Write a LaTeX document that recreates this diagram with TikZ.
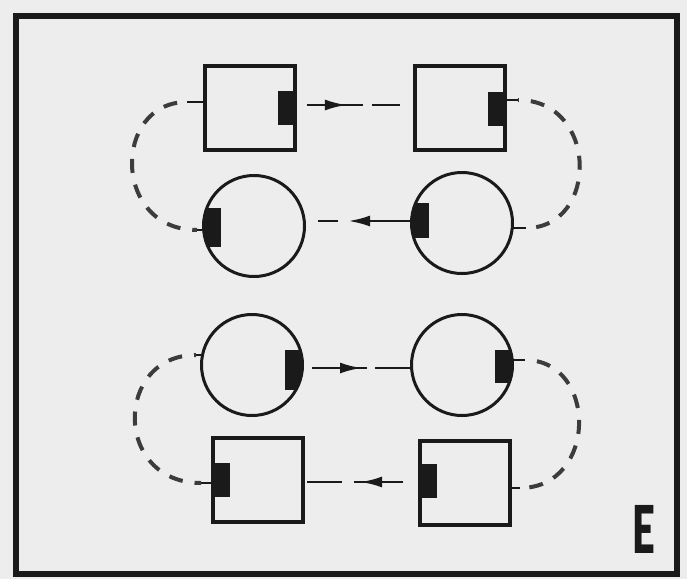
\documentclass[tikz,border=0pt]{standalone}
\usepackage{fontspec}
\newfontfamily\heavyfont{Lato}[UprightFont=* Black]
\usetikzlibrary{arrows.meta,calc}

\definecolor{paper}{HTML}{EDEDED}
\definecolor{ink}{HTML}{1A1A1A}

\tikzset{
    box/.style = {draw=ink, line width=3.8pt, minimum width=90pt, minimum height=84pt, inner sep=0pt},
    lens/.style = {draw=ink, circle, line width=3pt, minimum size=101pt, inner sep=0pt},
    tab/.style = {fill=ink, inner sep=0pt, minimum width=19pt, minimum height=34pt},
    wire/.style = {ink, line width=2.8pt},
    feed/.style = {ink!85, line width=4pt, dash pattern=on 14pt off 12pt},
    head/.style = {-{Latex[length=22pt,width=11pt]}},
}

\begin{document}
\begin{tikzpicture}[x=1pt,y=-1pt]
\fill[paper] (0,0) rectangle (687,579);
\useasboundingbox (0,0) rectangle (687,579);
\draw[ink, line width=6.5pt] (16,16) rectangle (677,574);

% upper loop
\node[box] (s1) at (250,108) {};
\node[box] (s2) at (460,108) {};
\node[lens] (c1) at (254,226) {};
\node[lens] (c2) at (462,223) {};
\node[tab, anchor=east] (s1t) at (s1.east) {};
\node[tab, anchor=east] (s2t) at ($(s2.east)+(0,1)$) {};
\begin{scope}
\clip (c1.center) circle[radius=51.5pt];
\node[tab, anchor=west, minimum width=22pt, minimum height=39pt] (c1t) at ($(c1.west)+(-3,1.5)$) {};
\end{scope}
\begin{scope}
\clip (c2.center) circle[radius=51.5pt];
\node[tab, anchor=west, minimum width=22pt, minimum height=35pt] (c2t) at ($(c2.west)+(-3,-2.5)$) {};
\end{scope}

% lower loop
\node[box] (s3) at (258,480) {};
\node[box] (s4) at (465,483) {};
\node[lens] (c3) at (252,365) {};
\node[lens] (c4) at (462,365) {};
\node[tab, anchor=west] (s3t) at (s3.west) {};
\node[tab, anchor=west] (s4t) at ($(s4.west)+(0,-2)$) {};
\begin{scope}
\clip (c3.center) circle[radius=51.5pt];
\node[tab, anchor=east, minimum width=22pt, minimum height=40pt] (c3t) at ($(c3.east)+(3,5)$) {};
\end{scope}
\begin{scope}
\clip (c4.center) circle[radius=51.5pt];
\node[tab, anchor=east, minimum width=22pt, minimum height=33pt] (c4t) at ($(c4.east)+(3,1.5)$) {};
\end{scope}

% stubs
\coordinate (s1in) at ($(s1.west)+(-16,-6)$);
\coordinate (c1in) at ($(c1.west)+(-5,4)$);
\coordinate (s2out) at ($(s2.east)+(11,-8)$);
\coordinate (c2out) at ($(c2.east)+(12,5)$);
\coordinate (c3in) at ($(c3.west)+(-4,-10)$);
\coordinate (s3in) at ($(s3.west)+(-10,3)$);
\coordinate (c4out) at ($(c4.east)+(11,-5)$);
\coordinate (s4out) at ($(s4.east)+(8,5)$);
\draw[wire] (s1in) -- (s1in -| s1.west);
\draw[wire] (c1in) -- ++(6,0);
\draw[wire] (s2out) -- (s2out -| s2.east);
\draw[wire] (c2out) -- ++(-13,0);
\draw[wire] (c3in) -- ++(6,0);
\draw[wire] (s3in) -- (s3in -| s3.west);
\draw[wire] (c4out) -- ++(-12,0);
\draw[wire] (s4out) -- (s4out -| s4.east);

% dashed loops
\draw[feed, dash phase=16pt] (s1in) .. controls +(-75,0) and +(-85,0) .. (c1in);
\draw[feed, dash phase=13pt] (s2out) .. controls +(81,0) and +(73,0) .. (c2out);
\draw[feed, dash phase=12pt] (c3in) .. controls +(-82,0) and +(-88,0) .. (s3in);
\draw[feed, dash phase=14pt] (c4out) .. controls +(73,0) and +(78,0) .. (s4out);

% straight links
\draw[wire] ($(s1.east)+(10,-3)$) coordinate (w1) -- ++(56,0) ++(9,0) -- ++(28,0);
\draw[wire, head] (w1) -- ++(40,0);
\draw[wire, head] ($(c2.west)+(0,-2)$) coordinate (w2) -- ++(-62,0);
\draw[wire] (w2) ++(-72,0) -- ++(-20,0);
\draw[wire, head] ($(c3.east)+(8,3)$) coordinate (w3) -- ++(50,0);
\draw[wire] (w3) -- ++(55,0) ++(8,0) -- (w3 -| c4.west);
\draw[wire, head] ($(s4.west)+(-15,-1)$) coordinate (w4) -- ++(-43,0);
\draw[wire] (w4) -- ++(-49,0) ++(-12,0) -- ++(-35,0);

\node[font=\heavyfont\fontsize{66}{66}\selectfont, xscale=0.6, text=ink, inner sep=0pt] (lbl) at (644,529) {E};
\end{tikzpicture}
\end{document}
